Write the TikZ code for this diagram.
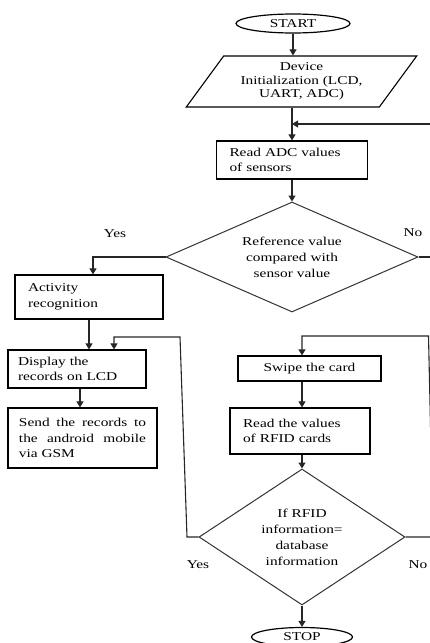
\documentclass[tikz,border=0pt]{standalone}
\usepackage{fontspec}
\setmainfont{Liberation Serif}[FakeStretch=1.28]
\usetikzlibrary{arrows, arrows.meta, positioning, shapes.geometric}
\hyphenpenalty=10000

\begin{document}
\begin{tikzpicture}[x=1pt, y=-1pt, >={Triangle[length=6pt,width=7pt]},
  every node/.style={font=\fontsize{12}{15.5}\selectfont},
  line/.style={draw=black!85, line width=1.1pt},
  box/.style={draw, rectangle, line width=1.2pt, align=left, inner ysep=0pt},
  term/.style={draw, ellipse, line width=1.2pt, minimum height=19pt, inner sep=0pt},
  decide/.style={draw=black!80, diamond, line width=1pt, inner sep=0pt, align=center, font=\fontsize{12}{16}\selectfont}]

  \useasboundingbox (0,0) rectangle (430,643);
  \clip (0,0) rectangle (430,643);

  \node[term, minimum width=114pt] (start) at (293,23.5) {START};
  \node[draw, line width=1.1pt, trapezium, trapezium left angle=52, trapezium right angle=128,
        trapezium stretches=true, minimum width=231pt, minimum height=51pt, inner sep=0pt,
        align=center, font=\fontsize{12}{13.5}\selectfont] (init) at (301.5,81.5)
        {Device\\Initialization (LCD,\\UART, ADC)};
  \node[box, text width=125pt, inner xsep=13pt, minimum height=38pt] (readadc) at (292,160)
        {Read ADC values\\of sensors};
  \node[decide, text width=105pt, aspect=2.29, minimum width=252pt, minimum height=110pt] (cmp) at (292,257)
        {Reference value\\compared with\\sensor value};

  \node[box, text width=122pt, inner xsep=13pt, minimum height=44pt] (activity) at (89,297)
        {Activity\\recognition};
  \node[box, text width=118pt, inner xsep=10pt, minimum height=38pt] (display) at (77,369)
        {Display the\\records on LCD};
  \node[box, text width=127pt, inner xsep=11pt, minimum height=60pt, align=justify] (send) at (82.5,438)
        {Send the records to the android mobile via GSM};

  \node[box, text width=121pt, inner xsep=11pt, minimum height=25pt, align=center] (swipe) at (309.5,368.5)
        {Swipe the card};
  \node[box, text width=114pt, inner xsep=13pt, minimum height=46pt] (readrfid) at (300,431)
        {Read the values\\of RFID cards};
  \node[decide, text width=90pt, aspect=1.51, minimum width=206pt, minimum height=136pt] (rfid) at (302,537)
        {If RFID\\information=\\database\\information};
  \node[term, minimum width=101pt] (stop) at (302,637) {STOP};

  \node (no1) at (413,233) {No};
  \node (yes1) at (115,234) {Yes};
  \node (yes2) at (198,565) {Yes};
  \node (no2) at (418,565) {No};

  \coordinate (nor) at (440,257);
  \coordinate (nob) at (440,124);
  \coordinate (nr2) at (433,537);
  \coordinate (nt2) at (428.5,336);
  \coordinate (yb) at (187,537);
  \coordinate (yt) at (180,337);

  % main column
  \draw[line,->] (start.south) -- (start.south |- init.north);
  \draw[line,->] (init.south -| readadc.north) -- (readadc.north);
  \draw[line,->] (readadc) -- (cmp);
  \draw[line,->] (cmp.east) -- (nor) -- (nob) -- (nob -| readadc.north);

  % yes branch
  \draw[line,->] (cmp.west) -| ([xshift=4pt]activity.north);
  \draw[line,->] (activity.south) -- (activity.south |- display.north);
  \draw[line,->] ([xshift=3pt]display.south) -- ([xshift=3pt]display.south |- send.north);

  % rfid part
  \draw[line,->] (swipe.south -| rfid.north) -- (readrfid.north -| rfid.north);
  \draw[line,->] (readrfid.south -| rfid.north) -- (rfid.north);
  \draw[line,->] (rfid.south) -- (stop.north);
  \draw[line,->] (rfid.east) -- (nr2) -- (nt2) -- (nt2 -| rfid.north) -- (swipe.north -| rfid.north);
  \draw[line,->] (rfid.west) -- (yb) -- (yt) -| ([xshift=37pt]display.north);

\end{tikzpicture}
\end{document}
